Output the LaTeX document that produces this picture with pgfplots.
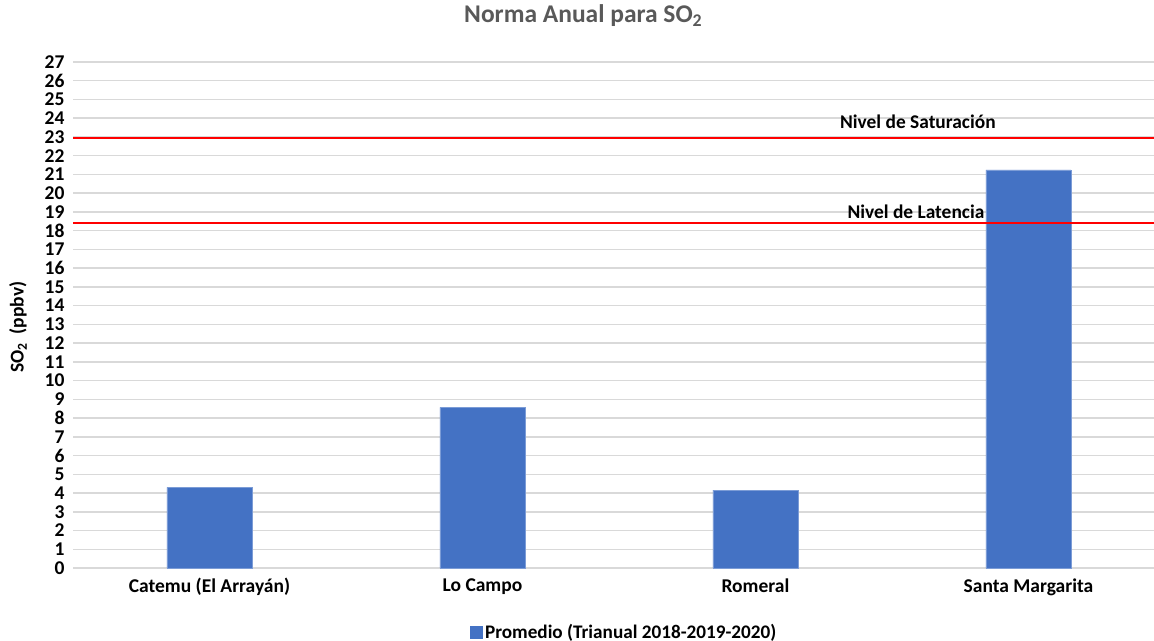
\documentclass[border=0pt]{standalone}
\usepackage{fontspec}
\setmainfont{Carlito}
\usepackage{pgfplots}
\pgfplotsset{compat=1.18}
\definecolor{barblue}{HTML}{4472C4}
\definecolor{gridgray}{HTML}{D9D9D9}
\definecolor{titlegray}{HTML}{595959}
\definecolor{limred}{HTML}{FF0000}
\pgfplotstableread{
x y
-0.5 18.39
3.46 18.39
}\latencia
\pgfplotstableread{
x y
-0.5 22.93
3.46 22.93
}\saturacion
\begin{document}
\begin{tikzpicture}
\path[use as bounding box] (0,0) rectangle (1154bp,641bp);
\begin{axis}[
  at={(73bp,73bp)}, anchor=south west,
  scale only axis, width=1081bp, height=506bp,
  xmin=-0.5, xmax=3.46, ymin=0, ymax=27,
  clip=false,
  axis line style={draw=none},
  xtick={0,1,2,3},
  xticklabels={Catemu (El Arrayán),Lo Campo,Romeral,Santa Margarita},
  ytick={0,1,...,27},
  major tick length=0pt,
  ymajorgrids, grid style={gridgray, line width=1.5bp},
  /pgf/number format/assume math mode=true,
  tick label style={font=\bfseries\fontsize{19.5bp}{21bp}\selectfont, text=black},
  xticklabel style={yshift=-7bp},
  yticklabel style={xshift=-5bp},
  ylabel={SO\textsubscript{2}\ \ (ppbv)},
  ylabel style={at={(axis description cs:-0.0509,0.476)}, anchor=center, font=\bfseries\fontsize{19.5bp}{21bp}\selectfont},
  title={Norma Anual para SO\textsubscript{2}},
  title style={at={(axis description cs:0.472,1)}, anchor=center, yshift=40bp, font=\bfseries\fontsize{25.5bp}{27bp}\selectfont, text=titlegray},
  legend style={at={(axis description cs:0.51,0)}, anchor=center, yshift=-64bp, draw=none, fill=none, font=\bfseries\fontsize{19.2bp}{21bp}\selectfont, inner sep=0pt},
  legend image code/.code={\fill[barblue] (0bp,-6bp) rectangle (12bp,6bp);},
]
\addplot[ybar, bar width=85bp, fill=barblue, draw=barblue!70!white, line width=0.8bp] coordinates {(0,4.3) (1,8.57) (2,4.16) (3,21.24)};
\addlegendentry{Promedio (Trianual 2018-2019-2020)}
\addplot[draw=red, line width=2bp, mark=none, forget plot] table[x=x,y=y] {\saturacion};
\addplot[draw=red, line width=2bp, mark=none, forget plot] table[x=x,y=y] {\latencia};
\node[font=\bfseries\fontsize{19.4bp}{21bp}\selectfont] at (axis cs:2.595,23.8) {Nivel de Saturación};
\node[font=\bfseries\fontsize{19.4bp}{21bp}\selectfont] at (axis cs:2.588,19.0) {Nivel de Latencia};
\end{axis}
\end{tikzpicture}
\end{document}
